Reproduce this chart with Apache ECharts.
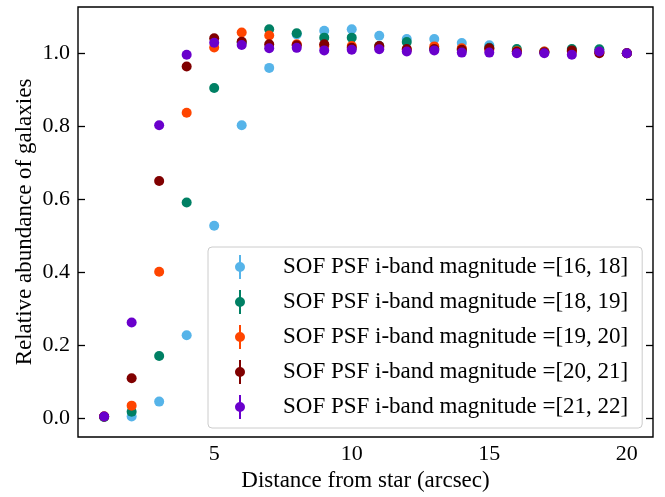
<!DOCTYPE html>
<html>
<head>
<meta charset="utf-8">
<script src="https://cdn.jsdelivr.net/npm/echarts@6/dist/echarts.min.js"></script>
<style>html,body{margin:0;padding:0;background:#fff}#c{width:665px;height:497px}</style>
</head>
<body>
<div id="c"></div>
<script>
const distances = [1,2,3,4,5,6,7,8,9,10,11,12,13,14,15,16,17,18,19,20];
const seriesNames = [
  'SOF PSF i-band magnitude =[16, 18]',
  'SOF PSF i-band magnitude =[18, 19]',
  'SOF PSF i-band magnitude =[19, 20]',
  'SOF PSF i-band magnitude =[20, 21]',
  'SOF PSF i-band magnitude =[21, 22]'
];
const colors = ['#56B4E9', '#008064', '#FF4500', '#800000', '#6A00CC'];
const mag16_18 = [0.003,0.004,0.045,0.227,0.527,0.803,0.960,1.052,1.062,1.066,1.048,1.039,1.039,1.028,1.022,1.006,1.004,1.005,1.006,1.000];
const mag18_19 = [0.003,0.017,0.170,0.591,0.905,1.030,1.066,1.055,1.043,1.043,1.020,1.031,1.012,1.010,1.015,1.012,1.004,1.012,1.011,1.000];
const mag19_20 = [0.004,0.034,0.401,0.837,1.016,1.057,1.049,1.025,1.020,1.020,1.015,1.010,1.019,1.014,1.010,1.006,1.005,1.005,1.003,1.000];
const mag20_21 = [0.004,0.109,0.650,0.964,1.041,1.032,1.025,1.022,1.025,1.015,1.020,1.012,1.012,1.010,1.014,1.004,1.003,1.008,1.000,1.000];
const mag21_22 = [0.004,0.262,0.803,0.996,1.029,1.023,1.014,1.015,1.008,1.010,1.011,1.005,1.008,1.002,1.002,1.000,1.000,0.996,1.005,1.000];
const allValues = [mag16_18, mag18_19, mag19_20, mag20_21, mag21_22];
const xTicks = [5, 10, 15, 20];
const yTicks = [0.0, 0.2, 0.4, 0.6, 0.8, 1.0];

const FONT = 'Liberation Serif';
const icon = 'path://M4,0H6V24H4Z M0,12A5,5 0 1,1 10,12A5,5 0 1,1 0,12Z M43,12L43,12';

const chart = echarts.init(document.getElementById('c'), null, {renderer: 'canvas'});
const xCommon = {
  type: 'value', min: 0.05, max: 20.95, interval: 5,
  axisLine: {show: false},
  axisTick: {show: true, inside: true, length: 7, lineStyle: {color: '#000', width: 1.3},
    customValues: xTicks},
  splitLine: {show: false}
};
const yCommon = {
  type: 'value', min: -0.052, max: 1.127,
  axisLine: {show: false},
  axisTick: {show: true, inside: true, length: 7, lineStyle: {color: '#000', width: 1.3},
    customValues: yTicks},
  splitLine: {show: false}
};
chart.setOption({
  animation: false,
  backgroundColor: '#fff',
  grid: {left: 78, right: 12, top: 7, bottom: 57, show: true, borderColor: '#000', borderWidth: 1.4, backgroundColor: 'transparent'},
  legend: {
    orient: 'vertical', left: 208, top: 247, z: 20,
    data: seriesNames.map(n => ({name: n, icon: icon})),
    itemWidth: 43, itemHeight: 24, itemGap: 11,
    padding: [8, 14, 9, 27],
    backgroundColor: '#ffffff',
    borderColor: '#cccccc', borderWidth: 1, borderRadius: 4,
    textStyle: {fontFamily: FONT, fontSize: 23, color: '#000'},
    selectedMode: false
  },
  xAxis: [
    Object.assign({}, xCommon, {position: 'bottom',
      name: 'Distance from star (arcsec)', nameLocation: 'middle', nameGap: 32, nameMoveOverlap: false,
      nameTextStyle: {fontFamily: FONT, fontSize: 23, color: '#000'},
      axisLabel: {fontFamily: FONT, fontSize: 22, color: '#000', margin: 6, customValues: xTicks}}),
    Object.assign({}, xCommon, {position: 'top', axisLabel: {show: false}})
  ],
  yAxis: [
    Object.assign({}, yCommon, {position: 'left',
      name: 'Relative abundance of galaxies', nameLocation: 'middle', nameGap: 42, nameMoveOverlap: false,
      nameTextStyle: {fontFamily: FONT, fontSize: 23, color: '#000'},
      axisLabel: {fontFamily: FONT, fontSize: 22, color: '#000', margin: 8, customValues: yTicks,
        formatter: v => v.toFixed(1)}}),
    Object.assign({}, yCommon, {position: 'right', axisLabel: {show: false}})
  ],
  series: seriesNames.map((n, i) => ({
    name: n, type: 'scatter', symbol: 'circle', symbolSize: 10,
    itemStyle: {color: colors[i], opacity: 1},
    data: distances.map((d, j) => [d, allValues[i][j]]),
    z: 2 + i
  }))
});
</script>
</body>
</html>
